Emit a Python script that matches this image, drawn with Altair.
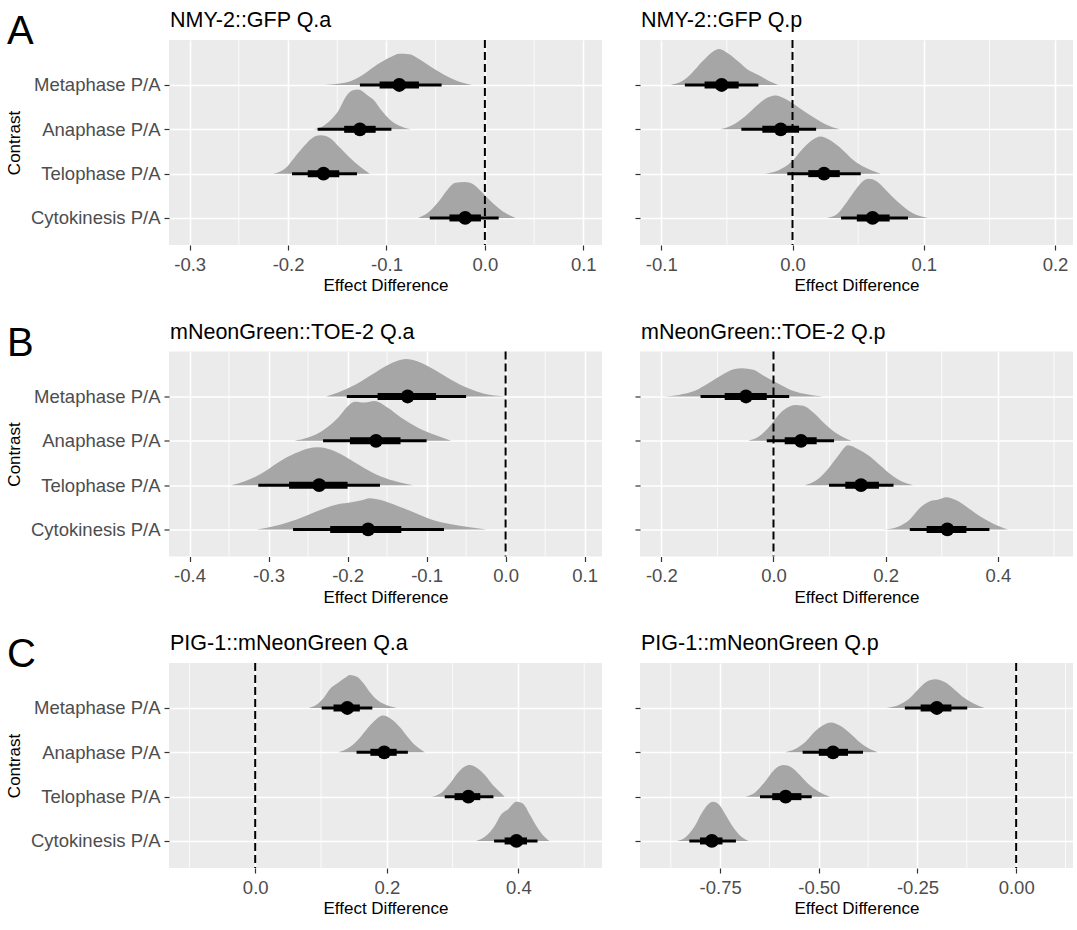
import altair as alt
import pandas as pd

FONT = "Liberation Sans, Arial, Helvetica, sans-serif"

CONTRASTS = ["Metaphase P/A", "Anaphase P/A", "Telophase P/A", "Cytokinesis P/A"]
ROW_POS = [4, 3, 2, 1]
PANEL_LETTERS = ["A", "B", "C"]
TITLES = [
    "NMY-2::GFP Q.a", "NMY-2::GFP Q.p",
    "mNeonGreen::TOE-2 Q.a", "mNeonGreen::TOE-2 Q.p",
    "PIG-1::mNeonGreen Q.a", "PIG-1::mNeonGreen Q.p",
]

# ---------------- Panel 1: NMY-2::GFP Q.a ----------------
P1_SLAB_X = [
    [-0.163, -0.149, -0.136, -0.122, -0.109, -0.095, -0.087, -0.077, -0.067, -0.055, -0.041, -0.028, -0.013],
    [-0.175, -0.165, -0.156, -0.149, -0.141, -0.134, -0.129, -0.119, -0.112, -0.106, -0.095, -0.085, -0.075],
    [-0.215, -0.203, -0.193, -0.183, -0.175, -0.167, -0.158, -0.148, -0.138, -0.127, -0.117],
    [-0.068, -0.058, -0.048, -0.038, -0.030, -0.021, -0.015, -0.004, 0.006, 0.018, 0.031],
]
P1_SLAB_D = [
    [0, 0.03, 0.10, 0.29, 0.52, 0.71, 0.78, 0.77, 0.65, 0.46, 0.25, 0.10, 0],
    [0, 0.07, 0.25, 0.46, 0.83, 0.98, 1.0, 0.85, 0.71, 0.50, 0.21, 0.07, 0],
    [0, 0.13, 0.42, 0.71, 0.90, 0.96, 0.90, 0.67, 0.42, 0.18, 0],
    [0, 0.13, 0.38, 0.71, 0.88, 0.90, 0.88, 0.67, 0.42, 0.17, 0],
]
P1_MEDIAN = [-0.087, -0.127, -0.164, -0.020]
P1_Q66_LO = [-0.107, -0.143, -0.180, -0.036]
P1_Q66_HI = [-0.067, -0.111, -0.148, -0.004]
P1_Q95_LO = [-0.127, -0.170, -0.196, -0.056]
P1_Q95_HI = [-0.044, -0.095, -0.130, 0.014]

# ---------------- Panel 2: NMY-2::GFP Q.p ----------------
P2_SLAB_X = [
    [-0.093, -0.084, -0.077, -0.069, -0.061, -0.056, -0.049, -0.041, -0.034, -0.026, -0.018, -0.011],
    [-0.055, -0.046, -0.036, -0.026, -0.018, -0.013, -0.006, 0.005, 0.015, 0.025, 0.036],
    [-0.021, -0.011, -0.001, 0.008, 0.016, 0.021, 0.029, 0.038, 0.046, 0.057, 0.067],
    [0.026, 0.034, 0.041, 0.049, 0.054, 0.058, 0.064, 0.072, 0.081, 0.091, 0.103],
]
P2_SLAB_D = [
    [0, 0.10, 0.29, 0.58, 0.83, 0.90, 0.79, 0.58, 0.38, 0.25, 0.10, 0],
    [0, 0.10, 0.33, 0.63, 0.81, 0.85, 0.77, 0.54, 0.32, 0.13, 0],
    [0, 0.08, 0.29, 0.63, 0.86, 0.93, 0.83, 0.60, 0.35, 0.13, 0],
    [0, 0.10, 0.38, 0.75, 0.93, 0.98, 0.92, 0.67, 0.38, 0.13, 0],
]
P2_MEDIAN = [-0.054, -0.009, 0.024, 0.061]
P2_Q66_LO = [-0.067, -0.023, 0.012, 0.049]
P2_Q66_HI = [-0.041, 0.005, 0.036, 0.074]
P2_Q95_LO = [-0.082, -0.039, -0.004, 0.037]
P2_Q95_HI = [-0.026, 0.018, 0.052, 0.088]

# ---------------- Panel 3: mNeonGreen::TOE-2 Q.a ----------------
P3_SLAB_X = [
    [-0.227, -0.212, -0.191, -0.170, -0.149, -0.136, -0.126, -0.111, -0.090, -0.069, -0.048, -0.027, -0.001],
    [-0.267, -0.250, -0.229, -0.212, -0.199, -0.191, -0.178, -0.166, -0.149, -0.132, -0.111, -0.090, -0.069],
    [-0.347, -0.330, -0.309, -0.288, -0.267, -0.250, -0.237, -0.220, -0.199, -0.178, -0.157, -0.136, -0.117],
    [-0.315, -0.296, -0.275, -0.254, -0.233, -0.212, -0.195, -0.182, -0.172, -0.157, -0.136, -0.115, -0.094, -0.069, -0.043, -0.024],
]
P3_SLAB_D = [
    [0, 0.10, 0.29, 0.54, 0.79, 0.90, 0.94, 0.88, 0.67, 0.42, 0.21, 0.07, 0],
    [0, 0.08, 0.29, 0.58, 0.88, 0.98, 0.96, 1.0, 0.83, 0.58, 0.33, 0.15, 0],
    [0, 0.10, 0.29, 0.57, 0.79, 0.92, 0.95, 0.88, 0.67, 0.42, 0.21, 0.08, 0],
    [0, 0.07, 0.18, 0.33, 0.50, 0.63, 0.68, 0.73, 0.78, 0.73, 0.58, 0.42, 0.25, 0.13, 0.05, 0],
]
P3_MEDIAN = [-0.124, -0.164, -0.236, -0.174]
P3_Q66_LO = [-0.162, -0.197, -0.274, -0.222]
P3_Q66_HI = [-0.088, -0.133, -0.200, -0.132]
P3_Q95_LO = [-0.201, -0.231, -0.313, -0.269]
P3_Q95_HI = [-0.050, -0.100, -0.159, -0.078]

# ---------------- Panel 4: mNeonGreen::TOE-2 Q.p ----------------
P4_SLAB_X = [
    [-0.196, -0.169, -0.139, -0.116, -0.092, -0.071, -0.056, -0.036, -0.015, 0.009, 0.033, 0.062, 0.089],
    [-0.045, -0.027, -0.009, 0.009, 0.024, 0.039, 0.053, 0.071, 0.089, 0.110, 0.139],
    [0.056, 0.077, 0.098, 0.116, 0.133, 0.151, 0.169, 0.190, 0.211, 0.231, 0.249],
    [0.196, 0.222, 0.243, 0.261, 0.279, 0.294, 0.308, 0.326, 0.347, 0.368, 0.391, 0.418],
]
P4_SLAB_D = [
    [0, 0.04, 0.15, 0.33, 0.54, 0.68, 0.71, 0.67, 0.50, 0.32, 0.15, 0.05, 0],
    [0, 0.10, 0.33, 0.65, 0.83, 0.90, 0.88, 0.71, 0.46, 0.21, 0],
    [0, 0.13, 0.42, 0.75, 1.0, 0.90, 0.75, 0.50, 0.25, 0.08, 0],
    [0, 0.07, 0.25, 0.54, 0.71, 0.75, 0.81, 0.73, 0.54, 0.33, 0.15, 0],
]
P4_MEDIAN = [-0.049, 0.049, 0.156, 0.310]
P4_Q66_LO = [-0.087, 0.020, 0.128, 0.273]
P4_Q66_HI = [-0.012, 0.077, 0.188, 0.344]
P4_Q95_LO = [-0.130, -0.012, 0.099, 0.243]
P4_Q95_HI = [0.028, 0.108, 0.214, 0.385]

# ---------------- Panel 5: PIG-1::mNeonGreen Q.a ----------------
P5_SLAB_X = [
    [0.081, 0.093, 0.104, 0.114, 0.126, 0.136, 0.144, 0.154, 0.164, 0.174, 0.187, 0.200, 0.215],
    [0.126, 0.141, 0.157, 0.172, 0.184, 0.194, 0.207, 0.220, 0.232, 0.245, 0.258],
    [0.268, 0.283, 0.296, 0.308, 0.318, 0.326, 0.336, 0.349, 0.361, 0.371, 0.379],
    [0.336, 0.351, 0.364, 0.374, 0.384, 0.397, 0.407, 0.417, 0.427, 0.437, 0.447],
]
P5_SLAB_D = [
    [0, 0.08, 0.25, 0.48, 0.63, 0.75, 0.83, 0.79, 0.63, 0.40, 0.18, 0.07, 0],
    [0, 0.10, 0.33, 0.63, 0.83, 0.92, 0.83, 0.63, 0.38, 0.15, 0],
    [0, 0.10, 0.33, 0.60, 0.75, 0.79, 0.73, 0.54, 0.29, 0.13, 0],
    [0, 0.13, 0.38, 0.67, 0.79, 0.98, 0.93, 0.67, 0.38, 0.15, 0],
]
P5_MEDIAN = [0.140, 0.196, 0.324, 0.397]
P5_Q66_LO = [0.119, 0.175, 0.303, 0.379]
P5_Q66_HI = [0.159, 0.215, 0.342, 0.413]
P5_Q95_LO = [0.101, 0.154, 0.288, 0.363]
P5_Q95_HI = [0.178, 0.232, 0.362, 0.429]

# ---------------- Panel 6: PIG-1::mNeonGreen Q.p ----------------
P6_SLAB_X = [
    [-0.329, -0.299, -0.274, -0.249, -0.228, -0.205, -0.181, -0.156, -0.131, -0.105, -0.080],
    [-0.587, -0.560, -0.535, -0.510, -0.489, -0.469, -0.447, -0.421, -0.396, -0.371, -0.350],
    [-0.687, -0.662, -0.636, -0.615, -0.590, -0.569, -0.548, -0.527, -0.501, -0.472],
    [-0.860, -0.839, -0.817, -0.796, -0.780, -0.769, -0.754, -0.737, -0.716, -0.699, -0.678],
]
P6_SLAB_D = [
    [0, 0.07, 0.21, 0.46, 0.65, 0.72, 0.65, 0.46, 0.25, 0.10, 0],
    [0, 0.08, 0.25, 0.52, 0.68, 0.75, 0.67, 0.48, 0.25, 0.08, 0],
    [0, 0.10, 0.38, 0.65, 0.79, 0.73, 0.54, 0.32, 0.13, 0],
    [0, 0.08, 0.33, 0.71, 0.92, 0.98, 0.92, 0.67, 0.33, 0.13, 0],
]
P6_MEDIAN = [-0.201, -0.464, -0.584, -0.771]
P6_Q66_LO = [-0.242, -0.500, -0.618, -0.801]
P6_Q66_HI = [-0.164, -0.426, -0.544, -0.744]
P6_Q95_LO = [-0.282, -0.541, -0.649, -0.828]
P6_Q95_HI = [-0.124, -0.388, -0.518, -0.710]

# axis settings per panel: domain, major ticks, minor grid, label format
AXES = [
    ([-0.321, 0.119], [-0.3, -0.2, -0.1, 0.0, 0.1], [-0.25, -0.15, -0.05, 0.05], ".1f"),
    ([-0.1162, 0.2137], [-0.1, 0.0, 0.1, 0.2], [-0.05, 0.05, 0.15], ".1f"),
    ([-0.426, 0.122], [-0.4, -0.3, -0.2, -0.1, 0.0, 0.1], [-0.35, -0.25, -0.15, -0.05, 0.05], ".1f"),
    ([-0.238, 0.534], [-0.2, 0.0, 0.2, 0.4], [-0.1, 0.1, 0.3, 0.5], ".1f"),
    ([-0.131, 0.527], [0.0, 0.2, 0.4], [-0.1, 0.1, 0.3, 0.5], ".1f"),
    ([-0.953, 0.144], [-0.75, -0.5, -0.25, 0.0], [-0.875, -0.625, -0.375, -0.125, 0.125], ".2f"),
]

PANELS = [
    (P1_SLAB_X, P1_SLAB_D, P1_MEDIAN, P1_Q66_LO, P1_Q66_HI, P1_Q95_LO, P1_Q95_HI),
    (P2_SLAB_X, P2_SLAB_D, P2_MEDIAN, P2_Q66_LO, P2_Q66_HI, P2_Q95_LO, P2_Q95_HI),
    (P3_SLAB_X, P3_SLAB_D, P3_MEDIAN, P3_Q66_LO, P3_Q66_HI, P3_Q95_LO, P3_Q95_HI),
    (P4_SLAB_X, P4_SLAB_D, P4_MEDIAN, P4_Q66_LO, P4_Q66_HI, P4_Q95_LO, P4_Q95_HI),
    (P5_SLAB_X, P5_SLAB_D, P5_MEDIAN, P5_Q66_LO, P5_Q66_HI, P5_Q95_LO, P5_Q95_HI),
    (P6_SLAB_X, P6_SLAB_D, P6_MEDIAN, P6_Q66_LO, P6_Q66_HI, P6_Q95_LO, P6_Q95_HI),
]

W, H = 433, 205
Y_DOMAIN = [0.39, 5.015]
SLAB_SCALE = 0.9
SLAB_COLOR = "#A6A6A6"

label_expr_y = " : ".join(
    f"datum.value == {p} ? '{c}'" for p, c in zip(ROW_POS, CONTRASTS)
) + " : ''"


def make_panel(i):
    slab_x, slab_d, med, lo66, hi66, lo95, hi95 = PANELS[i]
    domain, major, minor, fmt = AXES[i]
    left = (i % 2 == 0)

    rows = []
    for c, pos, xs, ds in zip(CONTRASTS, ROW_POS, slab_x, slab_d):
        for x, d in zip(xs, ds):
            rows.append({"contrast": c, "v": x, "base": pos, "top": pos + SLAB_SCALE * d})
    slab_df = pd.DataFrame(rows)
    summ_df = pd.DataFrame({
        "contrast": CONTRASTS, "pos": ROW_POS, "med": med,
        "lo66": lo66, "hi66": hi66, "lo95": lo95, "hi95": hi95,
    })

    xscale = alt.Scale(domain=domain, nice=False, zero=False)
    yscale = alt.Scale(domain=Y_DOMAIN, nice=False, zero=False)

    x_label_expr = f"(datum.value < -1e-9 ? '-' : '') + format(abs(datum.value), '{fmt}')"
    x_axis = alt.Axis(
        values=major, grid=True, gridColor="white", gridWidth=1.6,
        labelExpr=x_label_expr, labelFlush=False, labelOverlap=False,
        title="Effect Difference", titlePadding=4, labelPadding=5,
    )
    if left:
        y_axis = alt.Axis(
            values=ROW_POS, grid=True, gridColor="white", gridWidth=1.6,
            labelExpr=label_expr_y, title="Contrast", titlePadding=7, labelPadding=4,
        )
    else:
        y_axis = alt.Axis(
            values=ROW_POS, grid=True, gridColor="white", gridWidth=1.6,
            labels=False, title=None,
        )

    minor_layer = alt.Chart(pd.DataFrame({"v": minor})).mark_rule(
        color="white", strokeWidth=0.8
    ).encode(
        x=alt.X("v:Q", scale=xscale, axis=x_axis),
    )

    slab = alt.Chart(slab_df).mark_area(
        color=SLAB_COLOR, interpolate="monotone", opacity=1
    ).encode(
        x=alt.X("v:Q", scale=xscale),
        y=alt.Y("top:Q", scale=yscale, axis=y_axis, stack=None),
        y2="base:Q",
        detail="contrast:N",
    )

    zero = alt.Chart(pd.DataFrame({"v": [0.0]})).mark_rule(
        color="black", strokeWidth=2, strokeDash=[8, 4]
    ).encode(x=alt.X("v:Q", scale=xscale))

    thin = alt.Chart(summ_df).mark_rule(
        color="black", strokeWidth=3, strokeCap="butt"
    ).encode(
        x=alt.X("lo95:Q", scale=xscale), x2="hi95:Q",
        y=alt.Y("pos:Q", scale=yscale),
    )
    thick = alt.Chart(summ_df).mark_rule(
        color="black", strokeWidth=7, strokeCap="butt"
    ).encode(
        x=alt.X("lo66:Q", scale=xscale), x2="hi66:Q",
        y=alt.Y("pos:Q", scale=yscale),
    )
    pts = alt.Chart(summ_df).mark_circle(
        color="black", size=190, opacity=1
    ).encode(
        x=alt.X("med:Q", scale=xscale),
        y=alt.Y("pos:Q", scale=yscale),
    )

    title_txt = alt.Chart(pd.DataFrame({"t": [TITLES[i]]})).mark_text(
        font=FONT, fontSize=21.5, align="left", baseline="alphabetic", color="black"
    ).encode(text="t:N", x=alt.value(1), y=alt.value(-13))

    layers = [minor_layer, slab, zero, thin, thick, pts, title_txt]
    if left:
        letter = alt.Chart(pd.DataFrame({"t": [PANEL_LETTERS[i // 2]]})).mark_text(
            font=FONT, fontSize=40, align="left", baseline="alphabetic", color="black"
        ).encode(text="t:N", x=alt.value(-162), y=alt.value(4))
        layers.append(letter)

    return alt.layer(*layers).properties(width=W, height=H)


rows = []
for r in range(3):
    rows.append(alt.hconcat(make_panel(2 * r), make_panel(2 * r + 1), spacing=32))

chart = alt.vconcat(*rows, spacing=27.5).properties(
    background="white",
    padding={"left": 5, "top": 10, "right": 0, "bottom": 0},
).configure_view(
    fill="#EBEBEB", stroke=None
).configure_axis(
    labelFont=FONT, labelFontSize=18.5, labelColor="#4D4D4D",
    titleFont=FONT, titleFontSize=17, titleColor="black", titleFontWeight="normal",
    tickColor="#333333", tickSize=5, tickWidth=1.2, domain=False,
)

chart.save("out.html", embed_options={"renderer": "svg", "actions": False})
